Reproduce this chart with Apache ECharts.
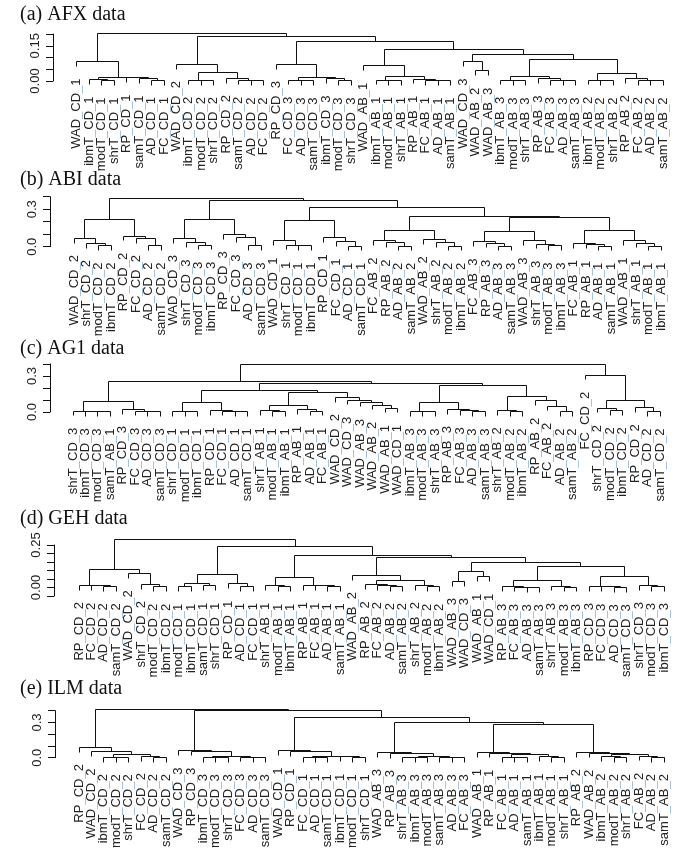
<!DOCTYPE html>
<html><head><meta charset="utf-8">
<script src="https://cdn.jsdelivr.net/npm/echarts@6/dist/echarts.min.js"></script>
<style>html,body{margin:0;padding:0;background:#fff}#c{width:685px;height:865px}</style>
</head><body><div id="c"></div>
<script>
// ---------- DATA ----------
const titleA = '(a) AFX data', titleB = '(b) ABI data', titleC = '(c) AG1 data', titleD = '(d) GEH data', titleE = '(e) ILM data';

const labelsA = ["WAD_CD_1","ibmT_CD_1","modT_CD_1","shrT_CD_1","RP_CD_1","samT_CD_1","AD_CD_1","FC_CD_1","WAD_CD_2","ibmT_CD_2","modT_CD_2","shrT_CD_2","RP_CD_2","samT_CD_2","AD_CD_2","FC_CD_2","RP_CD_3","FC_CD_3","AD_CD_3","samT_CD_3","ibmT_CD_3","modT_CD_3","shrT_CD_3","WAD_AB_1","ibmT_AB_1","modT_AB_1","shrT_AB_1","RP_AB_1","FC_AB_1","AD_AB_1","samT_AB_1","WAD_CD_3","WAD_AB_2","WAD_AB_3","ibmT_AB_3","modT_AB_3","shrT_AB_3","RP_AB_3","FC_AB_3","AD_AB_3","samT_AB_3","ibmT_AB_2","modT_AB_2","shrT_AB_2","RP_AB_2","FC_AB_2","AD_AB_2","samT_AB_2"];
const labelsB = ["WAD_CD_2","shrT_CD_2","modT_CD_2","ibmT_CD_2","RP_CD_2","FC_CD_2","AD_CD_2","samT_CD_2","WAD_CD_3","shrT_CD_3","modT_CD_3","ibmT_CD_3","RP_CD_3","FC_CD_3","AD_CD_3","samT_CD_3","WAD_CD_1","shrT_CD_1","modT_CD_1","ibmT_CD_1","RP_CD_1","FC_CD_1","AD_CD_1","samT_CD_1","FC_AB_2","RP_AB_2","AD_AB_2","samT_AB_2","WAD_AB_2","shrT_AB_2","modT_AB_2","ibmT_AB_2","FC_AB_3","RP_AB_3","AD_AB_3","samT_AB_3","WAD_AB_3","shrT_AB_3","modT_AB_3","ibmT_AB_3","FC_AB_1","RP_AB_1","AD_AB_1","samT_AB_1","WAD_AB_1","shrT_AB_1","modT_AB_1","ibmT_AB_1"];
const labelsC = ["shrT_CD_3","ibmT_CD_3","modT_CD_3","samT_AB_1","RP_CD_3","FC_CD_3","AD_CD_3","samT_CD_3","shrT_CD_1","modT_CD_1","ibmT_CD_1","RP_CD_1","FC_CD_1","AD_CD_1","samT_CD_1","shrT_AB_1","modT_AB_1","ibmT_AB_1","RP_AB_1","AD_AB_1","FC_AB_1","WAD_CD_2","WAD_CD_3","WAD_AB_3","WAD_AB_2","WAD_AB_1","WAD_CD_1","ibmT_AB_3","modT_AB_3","shrT_AB_3","RP_AB_3","FC_AB_3","AD_AB_3","samT_AB_3","shrT_AB_2","modT_AB_2","ibmT_AB_2","RP_AB_2","FC_AB_2","AD_AB_2","samT_AB_2","FC_CD_2","shrT_CD_2","modT_CD_2","ibmT_CD_2","RP_CD_2","AD_CD_2","samT_CD_2"];
const labelsD = ["RP_CD_2","FC_CD_2","AD_CD_2","samT_CD_2","WAD_CD_2","shrT_CD_2","modT_CD_2","ibmT_CD_2","modT_CD_1","ibmT_CD_1","samT_CD_1","shrT_CD_1","RP_CD_1","AD_CD_1","FC_CD_1","shrT_AB_1","modT_AB_1","ibmT_AB_1","RP_AB_1","FC_AB_1","AD_AB_1","samT_AB_1","WAD_AB_2","RP_AB_2","FC_AB_2","AD_AB_2","samT_AB_2","shrT_AB_2","modT_AB_2","ibmT_AB_2","WAD_AB_3","WAD_CD_3","WAD_AB_1","WAD_CD_1","RP_AB_3","FC_AB_3","AD_AB_3","samT_AB_3","shrT_AB_3","modT_AB_3","ibmT_AB_3","RP_CD_3","FC_CD_3","AD_CD_3","samT_CD_3","shrT_CD_3","modT_CD_3","ibmT_CD_3"];
const labelsE = ["RP_CD_2","WAD_CD_2","ibmT_CD_2","modT_CD_2","shrT_CD_2","FC_CD_2","AD_CD_2","samT_CD_2","WAD_CD_3","RP_CD_3","ibmT_CD_3","modT_CD_3","shrT_CD_3","FC_CD_3","AD_CD_3","samT_CD_3","WAD_CD_1","RP_CD_1","FC_CD_1","AD_CD_1","samT_CD_1","ibmT_CD_1","modT_CD_1","shrT_CD_1","WAD_AB_3","RP_AB_3","shrT_AB_3","ibmT_AB_3","modT_AB_3","samT_AB_3","AD_AB_3","FC_AB_3","WAD_AB_1","RP_AB_1","FC_AB_1","AD_AB_1","samT_AB_1","ibmT_AB_1","modT_AB_1","shrT_AB_1","RP_AB_2","WAD_AB_2","ibmT_AB_2","modT_AB_2","shrT_AB_2","FC_AB_2","AD_AB_2","samT_AB_2"];

// merge trees: [height, left, right]; leaves are 1-based positions in the label lists
const treeA = [0.203,
  [0.082, 1, [0.017, [0.0055, 2, [0.0013, 3, 4]], [0.014, 5, [0.0098, 6, [0.003, 7, 8]]]]],
  [0.191,
    [0.071, 9, [0.035, [0.004, 10, [0.003, 11, 12]], [0.0115, 13, [0.004, 14, [0.0013, 15, 16]]]]],
    [0.170,
      [0.071, 17, [0.0157, [0.004, 18, [0.0013, 19, 20]], [0.0098, 21, [0.001, 22, 23]]]],
      [0.132,
        [0.064, 24, [0.021, [0.004, 25, [0.003, 26, 27]], [0.0085, 28, [0.003, 29, [0.001, 30, 31]]]]],
        [0.114,
          [0.082, 32, [0.043, 33, 34]],
          [0.092,
            [0.021, [0.004, 35, [0.0015, 36, 37]], [0.0098, 38, [0.003, 39, [0.001, 40, 41]]]],
            [0.030, [0.004, 42, [0.0015, 43, 44]], [0.0115, 45, [0.003, 46, [0.001, 47, 48]]]]]]]]]];
const treeB = [0.387,
  [0.2216, [0.0672, 1, [0.0272, 2, [0.008, 3, 4]]], [0.0856, 5, [0.0672, 6, [0.008, 7, 8]]]],
  [0.368,
    [0.219, [0.0672, 9, [0.032, 10, [0.0136, 11, 12]]], [0.099, 13, [0.072, 14, [0.008, 15, 16]]]],
    [0.315,
      [0.208, [0.048, 17, [0.0136, 18, [0.008, 19, 20]]], [0.075, 21, [0.04, 22, [0.0056, 23, 24]]]],
      [0.24,
        [0.1336, [0.048, 25, [0.032, 26, [0.0056, 27, 28]]], [0.059, 29, [0.032, 30, [0.0056, 31, 32]]]],
        [0.236,
          [0.12, [0.04, 33, [0.0296, 34, [0.0056, 35, 36]]], [0.048, 37, [0.0216, 38, [0.008, 39, 40]]]],
          [0.1336, [0.0272, 41, [0.0216, 42, [0.0056, 43, 44]]], [0.048, 45, [0.0296, 46, [0.0056, 47, 48]]]]]]]]];
const treeC = [0.392,
  [0.253,
    [0.086, [0.008, 1, [0.003, 2, [0.001, 3, 4]]], [0.022, 5, [0.008, 6, [0.003, 7, 8]]]],
    [0.239,
      [0.183,
        [0.081, [0.003, 9, [0.001, 10, 11]], [0.011, 12, [0.008, 13, [0.003, 14, 15]]]],
        [0.161,
          [0.058, [0.011, 16, [0.003, 17, 18]], [0.022, 19, [0.008, 20, 21]]],
          [0.122, 22, [0.1, 23, [0.081, 24, [0.058, 25, [0.031, 26, 27]]]]]]],
      [0.217,
        [0.078, [0.003, 28, [0.001, 29, 30]], [0.022, 31, [0.011, 32, [0.001, 33, 34]]]],
        [0.128, [0.011, 35, [0.002, 36, 37]], [0.092, 38, [0.05, 39, [0.002, 40, 41]]]]]]],
  [0.308, 42, [0.1, [0.031, 43, [0.011, 44, 45]], [0.036, 46, [0.002, 47, 48]]]]];
const treeD = [0.284,
  [0.106, [0.0135, 1, [0.0096, 2, [0.0057, 3, 4]]], [0.082, 5, [0.0194, 6, [0.0037, 7, 8]]]],
  [0.239,
    [0.076, [0.025, [0.0037, 9, 10], [0.0096, 11, 12]], [0.021, 13, [0.0076, 14, 15]]],
    [0.19,
      [0.059, [0.0096, 16, [0.0037, 17, 18]], [0.0135, 19, [0.0096, 20, [0.0057, 21, 22]]]],
      [0.176,
        [0.072, 23, [0.039, [0.0176, 24, [0.0135, 25, [0.0076, 26, 27]]], [0.0135, 28, [0.0037, 29, 30]]]],
        [0.147,
          [0.092, [0.037, 31, 32], [0.062, 33, 34]],
          [0.125,
            [0.043, [0.004, 35, [0.002, 36, [0.001, 37, 38]]], [0.008, 39, [0.002, 40, 41]]],
            [0.066, [0.0076, 42, [0.004, 43, [0.001, 44, 45]]], [0.0135, 46, [0.0076, 47, 48]]]]]]]]];
const treeE = [0.406,
  [0.088, 1, [0.051, 2, [0.029, [0.004, 3, [0.001, 4, 5]], [0.012, 6, [0.003, 7, 8]]]]],
  [0.40,
    [0.06, 9, [0.057, 10, [0.01, [0.004, 11, [0.001, 12, 13]], [0.005, 14, [0.002, 15, 16]]]]],
    [0.344,
      [0.06, 17, [0.051, 18, [0.01, [0.004, 19, [0.002, 20, 21]], [0.006, 22, [0.001, 23, 24]]]]],
      [0.301,
        [0.046, 25, [0.037, 26, [0.006, [0.003, [0.001, 27, 28], 29], [0.004, 30, [0.001, 31, 32]]]]],
        [0.284,
          [0.046, 33, [0.04, 34, [0.023, [0.004, 35, [0.001, 36, 37]], [0.008, 38, [0.002, 39, 40]]]]],
          [0.046, 41, [0.04, 42, [0.031, [0.008, 43, [0.004, 44, 45]], [0.014, 46, [0.003, 47, 48]]]]]]]]]];

const ticksA = ['0.00', '0.15'];
const ticksB = ['0.0', '0.3'];
const ticksC = ['0.0', '0.3'];
const ticksD = ['0.00', '0.25'];
const ticksE = ['0.0', '0.3'];

// ---------- LAYOUT ----------
const panels = [
  {title: titleA, labels: labelsA, tree: treeA, ticks: ticksA, firstX: 76.7, lastX: 663, axisX: 53, yBottom: 81,    yTop: 34,    min: 0,     max: 0.20, interval: 0.05, titleTop: 5},
  {title: titleB, labels: labelsB, tree: treeB, ticks: ticksB, firstX: 74,   lastX: 661, axisX: 50, yBottom: 246.7, yTop: 196.7, min: 0,     max: 0.4,  interval: 0.1,  titleTop: 170},
  {title: titleC, labels: labelsC, tree: treeC, ticks: ticksC, firstX: 73,   lastX: 660, axisX: 50, yBottom: 412,   yTop: 364,   min: 0,     max: 0.4,  interval: 0.1,  titleTop: 339},
  {title: titleD, labels: labelsD, tree: treeD, ticks: ticksD, firstX: 79,   lastX: 664, axisX: 54, yBottom: 596,   yTop: 545,   min: -0.05, max: 0.25, interval: 0.05, titleTop: 509},
  {title: titleE, labels: labelsE, tree: treeE, ticks: ticksE, firstX: 79,   lastX: 664, axisX: 55, yBottom: 757.7, yTop: 710.7, min: 0,     max: 0.4,  interval: 0.1,  titleTop: 679}
];

const LINE = '#111';
const LABEL_FONT = '13px "Liberation Sans", Arial, sans-serif';
const LABEL_GAP = 12;

function snap(v) { return Math.round(v - 0.5) + 0.5; }

function makeRender(p) {
  return function (params, api) {
    const children = [];
    const hang = p.tree[0] * 0.1;
    function leafLabel(idx, pt) {
      children.push({
        type: 'text', silent: true,
        x: snap(pt[0]), y: pt[1] + LABEL_GAP, rotation: Math.PI / 2,
        style: {
          text: p.labels[idx - 1].replace(/_/g, '{u|_}'),
          align: 'right', verticalAlign: 'middle',
          font: LABEL_FONT, fill: '#222',
          rich: { u: { fill: '#8fb7dc', font: LABEL_FONT } }
        }
      });
    }
    function walk(n) {
      if (typeof n === 'number') return { x: n, leaf: true };
      const h = n[0];
      const L = walk(n[1]), R = walk(n[2]);
      const lh = L.leaf ? h - hang : L.h;
      const rh = R.leaf ? h - hang : R.h;
      const a = api.coord([L.x, lh]), b = api.coord([L.x, h]);
      const c = api.coord([R.x, h]), d = api.coord([R.x, rh]);
      children.push({
        type: 'polyline', silent: true,
        shape: { points: [[snap(a[0]), snap(a[1])], [snap(b[0]), snap(b[1])], [snap(c[0]), snap(c[1])], [snap(d[0]), snap(d[1])]] },
        style: { stroke: LINE, lineWidth: 1, fill: null }
      });
      if (L.leaf) leafLabel(n[1], a);
      if (R.leaf) leafLabel(n[2], d);
      return { x: (L.x + R.x) / 2, h: h, leaf: false };
    }
    walk(p.tree);
    return { type: 'group', children: children };
  };
}

const option = {
  animation: false,
  backgroundColor: '#fff',
  title: panels.map(p => ({
    text: p.title, left: 20, top: p.titleTop, padding: 0,
    textStyle: { fontFamily: '"Liberation Serif", "Times New Roman", serif', fontSize: 20, fontWeight: 'normal', color: '#111' }
  })),
  grid: panels.map(p => ({ left: p.firstX, top: p.yTop, width: p.lastX - p.firstX, height: p.yBottom - p.yTop, containLabel: false })),
  xAxis: panels.map((p, i) => ({ gridIndex: i, type: 'value', min: 1, max: 48, show: false })),
  yAxis: panels.map((p, i) => {
    const dec = p.ticks[0].split('.')[1].length;
    return {
      gridIndex: i, type: 'value', position: 'left', min: p.min, max: p.max, interval: p.interval,
      offset: p.firstX - p.axisX,
      axisLine: { show: true, lineStyle: { color: LINE, width: 1 } },
      axisTick: { show: true, length: 7, inside: false, lineStyle: { color: LINE, width: 1 } },
      splitLine: { show: false },
      axisLabel: {
        show: true, rotate: 90, margin: 11, fontSize: 13, color: '#222',
        fontFamily: '"Liberation Sans", Arial, sans-serif',
        formatter: v => { const s = (Math.abs(v) < 1e-9 ? 0 : v).toFixed(dec); return p.ticks.includes(s) ? s : ''; }
      }
    };
  }),
  series: panels.map((p, i) => ({
    type: 'custom', xAxisIndex: i, yAxisIndex: i, clip: false, silent: true,
    data: [[1, 0]],
    renderItem: makeRender(p)
  }))
};

const chart = echarts.init(document.getElementById('c'), null, { renderer: 'canvas' });
chart.setOption(option);
</script>
</body></html>
